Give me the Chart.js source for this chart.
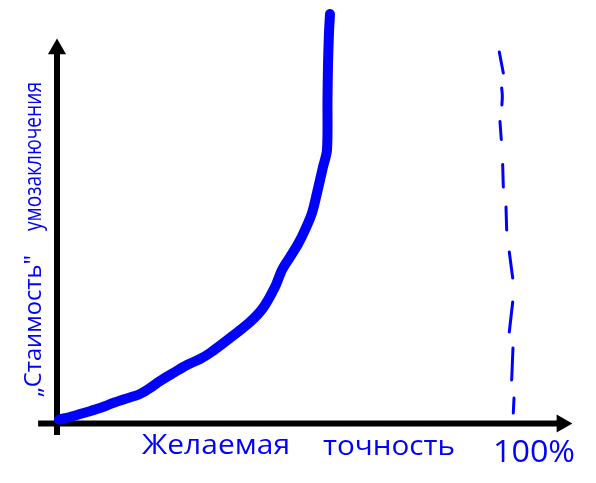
<!DOCTYPE html>
<html>
<head>
<meta charset="utf-8">
<script src="https://cdn.jsdelivr.net/npm/chart.js@4"></script>
<style>
html,body{margin:0;padding:0;background:#fff;}
#wrap{width:596px;height:483px;}
</style>
</head>
<body>
<div id="wrap"><canvas id="c" width="596" height="483"></canvas></div>
<script>
// Curve: desired accuracy (%) vs. inference "cost" (arbitrary units)
const curveX = [0.44, 2.89, 6.67, 9.56, 12.44, 15.11, 18.44, 20.67, 22.89, 26.22, 28.89, 31.78, 34.0, 38.44, 42.89, 45.78, 48.44, 50.0, 51.78, 53.56, 55.11, 56.67, 57.78, 59.11, 60.0, 60.11, 60.22, 60.44, 60.67];
const curveY = [1.04, 1.69, 2.99, 4.03, 5.33, 6.37, 7.67, 9.23, 11.05, 13.39, 15.21, 16.78, 18.34, 22.24, 26.40, 30.04, 35.50, 39.92, 43.30, 46.68, 50.33, 54.75, 59.95, 66.71, 71.13, 84.14, 92.98, 101.56, 106.5];

// Hand-drawn dashed 100% line (null separates dashes)
const dashX = [98.29, 99.18, null, 98.82, 98.96, 98.87, null, 98.44, 98.73, null, 99.04, 99.18, null, 99.78, 99.93, null, 100.51, 101.27, null, 101.27, 100.51, null, 101.33, 101.04, null, 101.56, 101.40];
const dashY = [96.62, 91.16, null, 87.26, 85.18, 82.83, null, 78.54, 73.86, null, 67.36, 61.51, null, 56.31, 50.33, null, 44.60, 37.84, null, 31.60, 23.80, null, 19.64, 11.31, null, 6.63, 2.73];

// Axis arrows
const xAxisX = [-4.2, 112.2];
const xAxisY = [0, 0];
const yAxisX = [0, 0];
const yAxisY = [-3.0, 97.4];

// Scale ranges
const xRange = [-12.667, 119.78];
const yRange = [-15.47, 110.14];

// Labels
const xLabelWords = ['Желаемая', 'точность'];
const xEndLabel = '100%';
const yLabelParts = ['„Стаимость"', 'умозаключения'];

function pts(xs, ys) {
  return xs.map((x, i) => ({x: x, y: ys[i]}));
}

function splitDashes(xs, ys) {
  const out = [];
  let cur = [];
  xs.forEach((x, i) => {
    if (x === null || ys[i] === null) {
      if (cur.length) out.push(cur);
      cur = [];
    } else {
      cur.push({x: x, y: ys[i]});
    }
  });
  if (cur.length) out.push(cur);
  return out;
}

const BLUE = '#0000ff';
const FONT = '"Open Sans", "DejaVu Sans", sans-serif';

function drawFitted(ctx, text, x, y, width, size, rot) {
  ctx.save();
  ctx.font = '400 ' + size + 'px ' + FONT;
  const w = ctx.measureText(text).width;
  ctx.translate(x, y);
  if (rot) ctx.rotate(rot);
  ctx.scale(width / w, 1);
  ctx.fillStyle = BLUE;
  ctx.textBaseline = 'alphabetic';
  ctx.textAlign = 'left';
  ctx.fillText(text, 0, 0);
  ctx.restore();
}

const labelsPlugin = {
  id: 'handLabels',
  afterDatasetsDraw(chart) {
    const ctx = chart.ctx;
    drawFitted(ctx, xLabelWords[0], 142, 454, 148, 27, 0);
    drawFitted(ctx, xLabelWords[1], 323, 455, 132, 27, 0);
    drawFitted(ctx, xEndLabel, 493, 462, 82, 31, 0);
    drawFitted(ctx, yLabelParts[0], 41, 397, 142, 23, -Math.PI / 2);
    drawFitted(ctx, yLabelParts[1], 41, 231, 149, 23, -Math.PI / 2);
  }
};

const dashSets = splitDashes(dashX, dashY).map(d => ({
  data: d,
  borderColor: BLUE,
  borderWidth: 3,
  borderCapStyle: 'round',
  borderJoinStyle: 'round',
  tension: 0.4,
  pointRadius: 0,
  clip: false
}));

new Chart(document.getElementById('c'), {
  type: 'line',
  data: {
    datasets: [
      {
        data: pts(curveX, curveY),
        borderColor: BLUE,
        borderWidth: 10,
        borderCapStyle: 'round',
        borderJoinStyle: 'round',
        tension: 0.3,
        pointRadius: 0,
        clip: false
      },
      ...dashSets,
      {
        data: pts(xAxisX, xAxisY),
        borderColor: '#000',
        borderWidth: 6,
        pointStyle: 'triangle',
        pointRadius: ctx => ctx.dataIndex === 1 ? 10.5 : 0,
        pointRotation: 90,
        pointBackgroundColor: '#000',
        pointBorderColor: '#000',
        pointBorderWidth: 0,
        clip: false
      },
      {
        data: pts(yAxisX, yAxisY),
        borderColor: '#000',
        borderWidth: 6,
        pointStyle: 'triangle',
        pointRadius: ctx => ctx.dataIndex === 1 ? 10.5 : 0,
        pointRotation: 0,
        pointBackgroundColor: '#000',
        pointBorderColor: '#000',
        pointBorderWidth: 0,
        clip: false
      }
    ]
  },
  options: {
    responsive: false,
    animation: false,
    devicePixelRatio: 1,
    layout: {padding: 0, autoPadding: false},
    plugins: {legend: {display: false}, tooltip: {enabled: false}},
    events: [],
    scales: {
      x: {type: 'linear', min: xRange[0], max: xRange[1], display: false},
      y: {type: 'linear', min: yRange[0], max: yRange[1], display: false}
    }
  },
  plugins: [labelsPlugin]
});
</script>
</body>
</html>
